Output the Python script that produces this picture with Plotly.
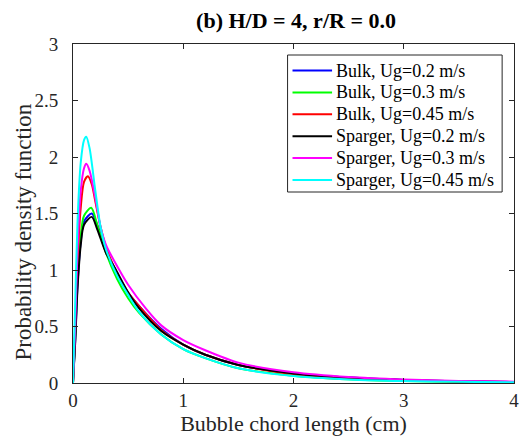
import plotly.graph_objects as go

# Bulk, Ug=0.2 m/s (blue)
bulk02_x = [0, 0.02, 0.04, 0.07, 0.10, 0.17, 0.22, 0.30, 0.40, 0.50, 0.60, 0.80, 1.00, 1.20, 1.50, 2.00, 2.50, 3.00, 3.50, 4.00]
bulk02_y = [0, 0.38, 0.85, 1.25, 1.43, 1.50, 1.40, 1.18, 0.97, 0.80, 0.68, 0.48, 0.34, 0.25, 0.16, 0.085, 0.048, 0.027, 0.015, 0.009]
# Bulk, Ug=0.3 m/s (green)
bulk03_x = [0, 0.02, 0.04, 0.07, 0.10, 0.165, 0.22, 0.30, 0.40, 0.50, 0.60, 0.80, 1.00, 1.20, 1.50, 2.00, 2.50, 3.00, 3.50, 4.00]
bulk03_y = [0, 0.40, 0.90, 1.30, 1.48, 1.55, 1.40, 1.15, 0.92, 0.75, 0.62, 0.43, 0.30, 0.22, 0.13, 0.065, 0.033, 0.017, 0.009, 0.005]
# Bulk, Ug=0.45 m/s (red)
bulk045_x = [0, 0.02, 0.04, 0.07, 0.10, 0.135, 0.17, 0.20, 0.25, 0.30, 0.40, 0.50, 0.60, 0.80, 1.00, 1.20, 1.50, 2.00, 2.50, 3.00, 3.50, 4.00]
bulk045_y = [0, 0.45, 1.05, 1.55, 1.78, 1.83, 1.76, 1.62, 1.38, 1.20, 0.97, 0.80, 0.68, 0.47, 0.34, 0.25, 0.16, 0.08, 0.043, 0.024, 0.014, 0.008]
# Sparger, Ug=0.2 m/s (black)
sp02_x = [0, 0.02, 0.04, 0.07, 0.10, 0.17, 0.22, 0.30, 0.39, 0.50, 0.60, 0.80, 1.00, 1.20, 1.50, 2.00, 2.50, 3.00, 3.50, 4.00]
sp02_y = [0, 0.36, 0.82, 1.22, 1.40, 1.47, 1.36, 1.15, 1.00, 0.80, 0.66, 0.46, 0.34, 0.25, 0.16, 0.085, 0.048, 0.027, 0.015, 0.009]
# Sparger, Ug=0.3 m/s (magenta)
sp03_x = [0, 0.02, 0.04, 0.07, 0.10, 0.12, 0.15, 0.20, 0.25, 0.30, 0.42, 0.50, 0.66, 0.80, 1.00, 1.20, 1.50, 2.00, 2.50, 3.00, 3.50, 4.00]
sp03_y = [0, 0.50, 1.15, 1.70, 1.90, 1.94, 1.88, 1.65, 1.38, 1.22, 1.00, 0.87, 0.66, 0.51, 0.38, 0.29, 0.18, 0.095, 0.053, 0.031, 0.018, 0.012]
# Sparger, Ug=0.45 m/s (cyan)
sp045_x = [0, 0.02, 0.04, 0.07, 0.10, 0.12, 0.15, 0.20, 0.25, 0.30, 0.40, 0.50, 0.60, 0.80, 1.00, 1.20, 1.50, 2.00, 2.50, 3.00, 3.50, 4.00]
sp045_y = [0, 0.70, 1.40, 1.95, 2.15, 2.18, 2.08, 1.72, 1.38, 1.18, 0.95, 0.78, 0.63, 0.43, 0.30, 0.22, 0.13, 0.062, 0.032, 0.017, 0.01, 0.006]

series = [
    ("Bulk, Ug=0.2 m/s", bulk02_x, bulk02_y, "#0000ff"),
    ("Bulk, Ug=0.3 m/s", bulk03_x, bulk03_y, "#00ff00"),
    ("Bulk, Ug=0.45 m/s", bulk045_x, bulk045_y, "#ff0000"),
    ("Sparger, Ug=0.2 m/s", sp02_x, sp02_y, "#000000"),
    ("Sparger, Ug=0.3 m/s", sp03_x, sp03_y, "#ff00ff"),
    ("Sparger, Ug=0.45 m/s", sp045_x, sp045_y, "#00ffff"),
]

x_ticks = [0, 1, 2, 3, 4]
y_ticks = [0, 0.5, 1, 1.5, 2, 2.5, 3]
y_tick_text = ["0", "0.5", "1", "1.5", "2", "2.5", "3"]

FONT = "Liberation Serif"
W, H = 522, 443
L, R, T, B = 73, 519, 44, 383  # plot area in pixels


def px_x(p):
    return (p - L) / (R - L)


def px_y(p):
    return (B - p) / (B - T)


fig = go.Figure()
for name, xs, ys, col in series:
    fig.add_trace(go.Scatter(x=xs, y=ys, mode="lines", name=name, showlegend=False,
                             line=dict(color=col, width=2, shape="spline", smoothing=0.8)))

# Legend box drawn by hand (MATLAB style)
shapes = [dict(type="rect", xref="paper", yref="paper",
               x0=px_x(290), x1=px_x(507), y0=px_y(192), y1=px_y(55),
               line=dict(color="#262626", width=1), fillcolor="white", layer="above")]
annotations = []
for i, (name, xs, ys, col) in enumerate(series):
    yrow = 70.5 + 21.9 * i
    shapes.append(dict(type="line", xref="paper", yref="paper",
                       x0=px_x(295), x1=px_x(335), y0=px_y(yrow), y1=px_y(yrow),
                       line=dict(color=col, width=2), layer="above"))
    annotations.append(dict(text=name, xref="paper", yref="paper", x=px_x(337), y=px_y(yrow),
                            xanchor="left", yanchor="middle", showarrow=False,
                            font=dict(family=FONT, size=18, color="#000000")))

# y-axis label
annotations.append(dict(text="Probability density function", xref="paper", yref="paper",
                        x=px_x(22), y=px_y(232), xanchor="center", yanchor="middle",
                        textangle=-90, showarrow=False,
                        font=dict(family=FONT, size=23, color="#262626")))

axis_common = dict(showgrid=False, zeroline=False, showline=True, linecolor="#262626",
                   linewidth=1, mirror="ticks", ticks="inside", ticklen=5,
                   tickcolor="#262626", ticklabeloverflow="allow",
                   tickfont=dict(family=FONT, size=19, color="#262626"))

fig.update_layout(
    width=W, height=H,
    margin=dict(l=L, r=W - R, t=T, b=H - B),
    paper_bgcolor="white", plot_bgcolor="white",
    font=dict(family=FONT, color="#262626"),
    title=dict(text="<b>(b) H/D = 4, r/R = 0.0</b>", x=296 / W, xanchor="center",
               y=1 - 20 / H, yanchor="middle", font=dict(family=FONT, size=22, color="#000000")),
    xaxis=dict(range=[0, 4], tickvals=x_ticks,
               title=dict(text="Bubble chord length (cm)", font=dict(family=FONT, size=22), standoff=4),
               **axis_common),
    yaxis=dict(range=[0, 3], tickvals=y_ticks, ticktext=y_tick_text, ticklabelstandoff=10,
               **axis_common),
    shapes=shapes,
    annotations=annotations,
    showlegend=False,
)

fig.write_html("out.html")
